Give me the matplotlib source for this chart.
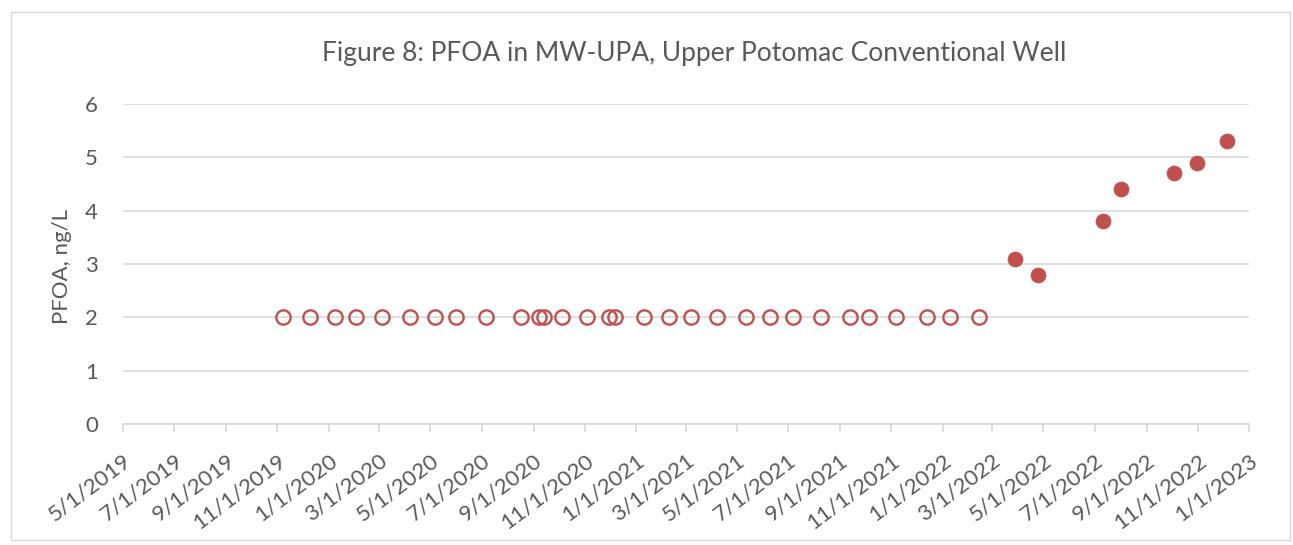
import matplotlib
matplotlib.use("Agg")
import matplotlib.pyplot as plt
from matplotlib.patches import Rectangle
import pandas as pd

# Non-detect (open) samples, reported at 2 ng/L
nd_dates = ["2019-11-07", "2019-12-10", "2020-01-09", "2020-02-03", "2020-03-04",
            "2020-04-07", "2020-05-06", "2020-06-01", "2020-07-06", "2020-08-17",
            "2020-09-07", "2020-09-13", "2020-10-05", "2020-11-04", "2020-11-30",
            "2020-12-07", "2021-01-11", "2021-02-09", "2021-03-08", "2021-04-07",
            "2021-05-12", "2021-06-09", "2021-07-07", "2021-08-09", "2021-09-13",
            "2021-10-05", "2021-11-07", "2021-12-13", "2022-01-10", "2022-02-14"]
nd_values = [2.0] * len(nd_dates)

# Detected (filled) samples
det_dates = ["2022-03-28", "2022-04-25", "2022-07-11", "2022-08-01",
             "2022-10-04", "2022-10-31", "2022-12-06"]
det_values = [3.1, 2.8, 3.8, 4.4, 4.7, 4.9, 5.3]

tick_labels = ["5/1/2019", "7/1/2019", "9/1/2019", "11/1/2019", "1/1/2020", "3/1/2020",
               "5/1/2020", "7/1/2020", "9/1/2020", "11/1/2020", "1/1/2021", "3/1/2021",
               "5/1/2021", "7/1/2021", "9/1/2021", "11/1/2021", "1/1/2022", "3/1/2022",
               "5/1/2022", "7/1/2022", "9/1/2022", "11/1/2022", "1/1/2023"]

title = "Figure 8: PFOA in MW-UPA, Upper Potomac Conventional Well"
ylabel = "PFOA, ng/L"

plt.rcParams['font.family'] = ['Lato', 'DejaVu Sans']
text_color = "#595959"
grid_color = "#D9D9D9"
red = "#C0504D"

W, H = 1293, 545
fig = plt.figure(figsize=(W / 100, H / 100), dpi=100)
ax = fig.add_axes([123 / W, 1 - 424 / H, (1249 - 123) / W, (424 - 104) / H])

# border around chart
fig.patches.append(Rectangle((11 / W, 1 - 540 / H), (1290 - 11) / W, (540 - 12) / H,
                             transform=fig.transFigure, fill=False,
                             edgecolor=grid_color, linewidth=1.0))

nd_x = pd.to_datetime(nd_dates)
det_x = pd.to_datetime(det_dates)
tick_x = pd.to_datetime(tick_labels, format="%m/%d/%Y")

ax.plot(nd_x, nd_values, linestyle="none", marker="o", markersize=10.3,
        markerfacecolor="none", markeredgecolor=red, markeredgewidth=1.7, zorder=3)
ax.plot(det_x, det_values, linestyle="none", marker="o", markersize=10.8,
        markerfacecolor=red, markeredgecolor=red, markeredgewidth=0.5, zorder=3)

ax.set_xlim(tick_x[0], tick_x[-1])
ax.set_ylim(0, 6)
ax.set_yticks(range(0, 7))
ax.set_xticks(tick_x)
ax.set_xticklabels(tick_labels, rotation=37, ha="right", va="top", rotation_mode="anchor")

ax.grid(axis="y", color=grid_color, linewidth=1.2)
ax.set_axisbelow(True)
for s in ["left", "right", "top"]:
    ax.spines[s].set_visible(False)
ax.spines["bottom"].set_color(grid_color)
ax.spines["bottom"].set_linewidth(1.2)
ax.tick_params(axis="x", colors=grid_color, length=6, width=1.2, labelcolor=text_color,
               labelsize=16, pad=13)
ax.tick_params(axis="y", length=0, labelcolor=text_color, labelsize=16, pad=18)

fig.text(62 / W, 1 - 266 / H, ylabel, rotation=90, ha="center", va="center",
         color=text_color, fontsize=16)
fig.text(0.5 * (123 + 1249) / W + 8 / W, 1 - 61 / H, title, ha="center", va="baseline",
         color=text_color, fontsize=19)

fig.savefig("out.png", dpi=100)
